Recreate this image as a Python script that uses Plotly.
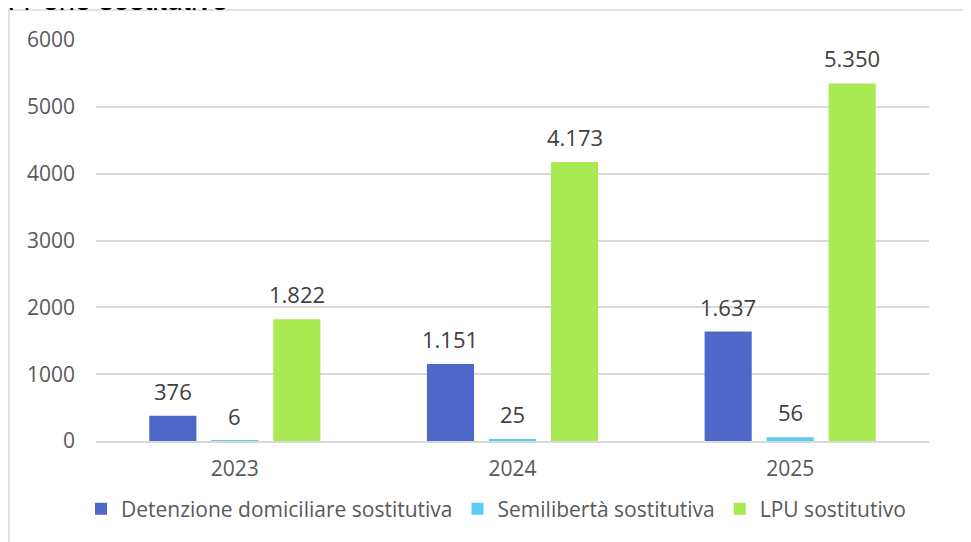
import plotly.graph_objects as go

years = ["2023", "2024", "2025"]
detenzione = [376, 1151, 1637]
semiliberta = [6, 25, 56]
lpu = [1822, 4173, 5350]
series_names = ["Detenzione domiciliare sostitutiva", "Semilibertà sostitutiva", "LPU sostitutivo"]
colors = ["#4F67C9", "#5BCBF5", "#A9EA52"]
y_ticks = [0, 1000, 2000, 3000, 4000, 5000, 6000]

# page has an 8px body margin; figure is drawn offset by it
OFF = 8
W, H = 971 - OFF, 542 - OFF
ML, MR, MT, MB = 88, 42, 32, 101
pw = W - ML - MR
ph = H - MT - MB

def px_x(page_x):
    return (page_x - OFF - ML) / pw

def px_y(page_y):
    return (H - MB - (page_y - OFF)) / ph

FONT = "Open Sans"
TXT = "#595959"
FS = 21
LABEL_FS = 22
BARGAP = 0.33
BARGROUPGAP = 0.24

fig = go.Figure()
all_series = [detenzione, semiliberta, lpu]
for name, vals, col in zip(series_names, all_series, colors):
    fig.add_trace(go.Bar(
        x=years, y=vals, name=name,
        marker=dict(color=col, line=dict(width=0)),
        cliponaxis=False,
    ))

# data labels above bars (category index positions, shifted to each bar of the group)
n = len(all_series)
slot = (pw / len(years)) * (1 - BARGAP) / n
annotations = []
for i, vals in enumerate(all_series):
    for k, v in enumerate(vals):
        annotations.append(dict(
            x=k, y=v, xref="x", yref="y",
            text=f"{v:,}".replace(",", "."),
            showarrow=False, xanchor="center", yanchor="bottom",
            xshift=(i - (n - 1) / 2) * slot, yshift=8,
            font=dict(family=FONT, size=LABEL_FS, color="#404040"),
        ))

annotations.append(dict(text="e. Pene sostitutive", xref="paper", yref="paper",
                        x=px_x(-11), y=px_y(18), xanchor="left", yanchor="bottom",
                        showarrow=False,
                        font=dict(family="Liberation Sans", size=29, color="#000000")))

fig.update_layout(
    width=W, height=H, autosize=False,
    margin=dict(l=ML, r=MR, t=MT, b=MB, autoexpand=False),
    paper_bgcolor="white", plot_bgcolor="white",
    barmode="group", bargap=BARGAP, bargroupgap=BARGROUPGAP,
    font=dict(family=FONT, size=FS, color=TXT),
    showlegend=True,
    legend=dict(orientation="h", x=px_x(496), xanchor="center", y=px_y(509), yanchor="middle",
                font=dict(family=FONT, size=FS, color=TXT), itemwidth=30,
                tracegroupgap=0),
    xaxis=dict(type="category", range=[-0.5, len(years) - 0.5], autorange=False,
               showgrid=False, showline=True, linecolor="#D9D9D9", linewidth=1.5,
               ticks="", ticklabelstandoff=8,
               tickfont=dict(family=FONT, size=FS, color=TXT)),
    yaxis=dict(range=[0, 6000], autorange=False, tickvals=y_ticks, tickformat="d",
               showgrid=True, gridcolor="#D9D9D9", gridwidth=1.5,
               zeroline=False, showline=False, ticks="",
               ticklabelstandoff=20,
               tickfont=dict(family=FONT, size=FS, color=TXT)),
    shapes=[dict(type="rect", xref="paper", yref="paper",
                 x0=px_x(9), x1=px_x(1010), y0=px_y(600), y1=px_y(10),
                 line=dict(color="#D9D9D9", width=1.5), fillcolor="rgba(0,0,0,0)",
                 layer="below")],
    annotations=annotations,
)

fig.write_html("out.html")
